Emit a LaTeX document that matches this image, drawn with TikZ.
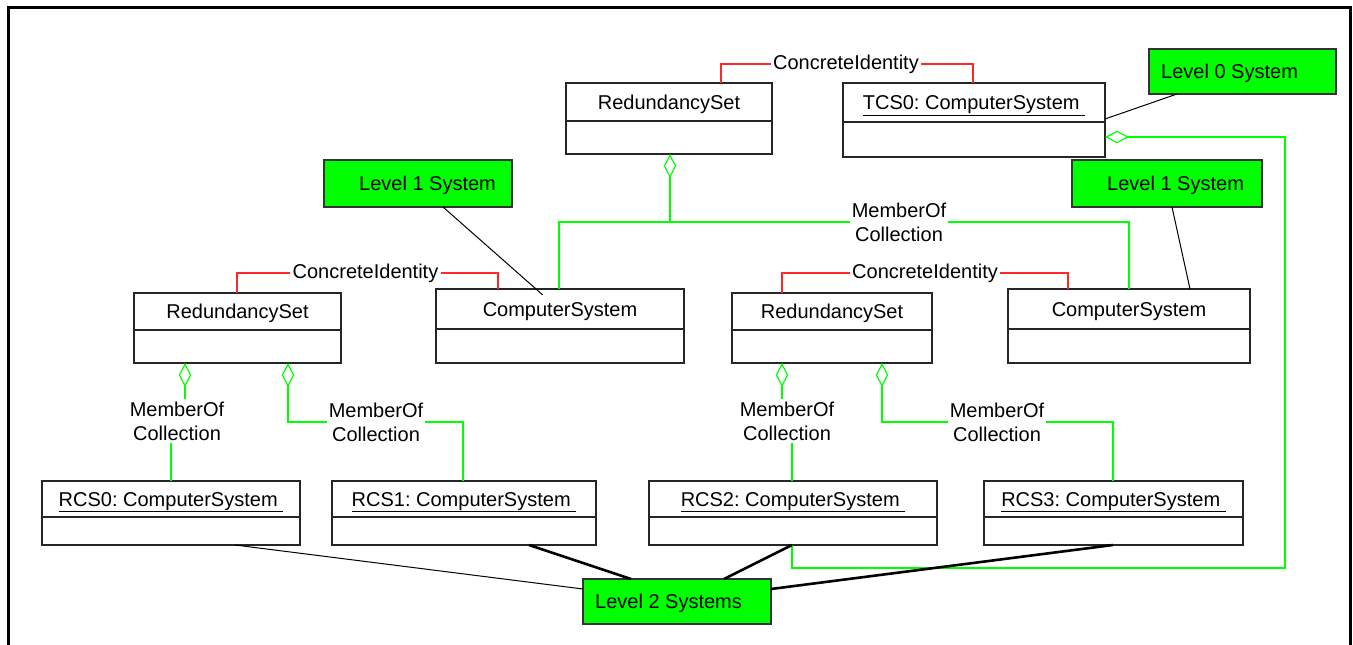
\documentclass[tikz,border=0pt]{standalone}
\usepackage{fontspec}
\setmainfont{Liberation Sans}
\frenchspacing
\usetikzlibrary{arrows.meta}
\definecolor{lgreen}{RGB}{0,255,0}
\definecolor{lred}{RGB}{255,40,40}
\newcommand\UMLbox[7]{%
  \node[umlbox, minimum width={#4-#2}, minimum height={#5-#3}] (#1) at ({(#2+#4)/2},{(#3+#5)/2}) {};
  \draw[divider] (#1.west |- 0,#6) -- (#1.east |- 0,#6);
  \node[boxtitle] (#1-t) at ({(#2+#4)/2},{(#3+#6)/2+7}) {#7};
}
\newcommand\LVLbox[7]{%
  \node[lvl, minimum width={#4-#2}, minimum height={#5-#3}] (#1) at ({(#2+#4)/2},{(#3+#5)/2}) {};
  \node[lvltext] (#1-t) at (#6,{(#3+#5)/2+7}) {#7};
}
\begin{document}
\begin{tikzpicture}[x=1pt,y=-1pt,
  every node/.style={font=\fontsize{20}{24}\selectfont, text=black},
  umlbox/.style={draw=black!85, line width=1.3pt, inner sep=0pt, outer sep=0pt},
  boxtitle/.style={anchor=base, inner sep=0pt},
  divider/.style={draw=black!85, line width=1.3pt},
  lvl/.style={draw=black!80, fill=lgreen, line width=1.3pt, inner sep=0pt, outer sep=0pt},
  lvltext/.style={anchor=base west, inner sep=0pt},
  ci/.style={draw=lred, line width=1.1pt},
  moc/.style={draw=lgreen, line width=1.2pt},
  agg/.style={{Diamond[open,length=24pt,width=12.5pt]}-},
  lab/.style={fill=white, inner sep=2pt, align=center},
  thinline/.style={draw=black, line width=1pt},
  thickline/.style={draw=black, line width=2.6pt},
  outerframe/.style={draw=black, line width=3pt}
]
\useasboundingbox (0,0) rectangle (1353,645);
\draw[outerframe] (8,645) -- (8,7) -- (1350.5,7) -- (1350.5,645);

% class boxes
\UMLbox{rsTop}{566}{83}{772}{154}{121}{RedundancySet}
\UMLbox{tcs0}{843}{83}{1105}{157}{122}{\underline{TCS0: ComputerSystem\ }}
\UMLbox{rsL}{134}{293}{341}{363}{330}{RedundancySet}
\UMLbox{csL}{436}{289}{684}{363}{329}{ComputerSystem}
\UMLbox{rsR}{732}{293}{932}{363}{330}{RedundancySet}
\UMLbox{csR}{1008}{289}{1250}{363}{329}{ComputerSystem}
\UMLbox{rcs0}{42}{481}{300}{545}{517}{\underline{RCS0: ComputerSystem\ }}
\UMLbox{rcs1}{332}{481}{596}{545}{517}{\underline{RCS1: ComputerSystem\ }}
\UMLbox{rcs2}{649}{481}{937}{545}{517}{\underline{RCS2: ComputerSystem\ }}
\UMLbox{rcs3}{984}{481}{1243}{545}{517}{\underline{RCS3: ComputerSystem\ }}

% level notes
\LVLbox{lvl0}{1149}{49}{1336}{94}{1161}{Level 0 System}
\LVLbox{lvl1L}{324}{160}{512}{207}{359}{Level 1 System}
\LVLbox{lvl1R}{1072}{160}{1262}{207}{1107}{Level 1 System}
\LVLbox{lvl2}{583}{579}{771}{624}{595}{Level 2 Systems}

% labels
\node[lab] (ciTop) at (846,64) {ConcreteIdentity};
\node[lab] (ciL) at (365.5,273) {ConcreteIdentity};
\node[lab] (ciR) at (925,273) {ConcreteIdentity};
\node[lab] (mocTop) at (899,222) {MemberOf\\Collection};
\node[lab] (mocL1) at (177,421) {MemberOf\\Collection};
\node[lab] (mocL2) at (376,422) {MemberOf\\Collection};
\node[lab] (mocR1) at (787,421) {MemberOf\\Collection};
\node[lab] (mocR2) at (997,422) {MemberOf\\Collection};

% ConcreteIdentity connectors
\draw[ci] (rsTop.north -| 721,0) |- (ciTop.west);
\draw[ci] (ciTop.east) -| (tcs0.north -| 973,0);
\draw[ci] (rsL.north -| 237,0) |- (ciL.west);
\draw[ci] (ciL.east) -| (csL.north -| 498,0);
\draw[ci] (rsR.north -| 782,0) |- (ciR.west);
\draw[ci] (ciR.east) -| (csR.north -| 1068,0);

% MemberOfCollection connectors
\draw[moc,agg] (rsTop.south -| 670,0) -- (670,222) coordinate (split) -| (csL.north -| 559,0);
\draw[moc] (split) -- (mocTop.west);
\draw[moc] (mocTop.east) -| (csR.north -| 1129,0);
\draw[moc,agg] (tcs0.east |- 0,137) -- (1285,137) |- (792,568) -- (rcs2.south -| 792,0);
\draw[moc,agg] (rsL.south -| 185,0) -- (mocL1.north -| 185,0);
\draw[moc] (mocL1.south -| 171,0) -- (rcs0.north -| 171,0);
\draw[moc,agg] (rsL.south -| 288,0) |- (mocL2.west);
\draw[moc] (mocL2.east) -| (rcs1.north -| 463,0);
\draw[moc,agg] (rsR.south -| 782,0) -- (mocR1.north -| 782,0);
\draw[moc] (mocR1.south -| 792,0) -- (rcs2.north -| 792,0);
\draw[moc,agg] (rsR.south -| 882,0) |- (mocR2.west);
\draw[moc] (mocR2.east) -| (rcs3.north -| 1113,0);

% level links
\draw[thinline] (lvl0.south -| 1177,0) -- (tcs0.east |- 0,119);
\draw[thinline, shorten >=-9pt] (lvl1L.south -| 443,0) -- (csL.north -| 536,0);
\draw[thinline] (lvl1R.south -| 1172,0) -- (csR.north -| 1190,0);
\draw[thinline] (rcs0.south -| 235,0) -- (lvl2.west |- 0,589);
\draw[thickline] (rcs1.south -| 529,0) -- (lvl2.north -| 631,0);
\draw[thickline] (rcs2.south -| 792,0) -- (lvl2.north -| 724,0);
\draw[thickline] (rcs3.south -| 1113,0) -- (lvl2.east |- 0,589);
\end{tikzpicture}
\end{document}
